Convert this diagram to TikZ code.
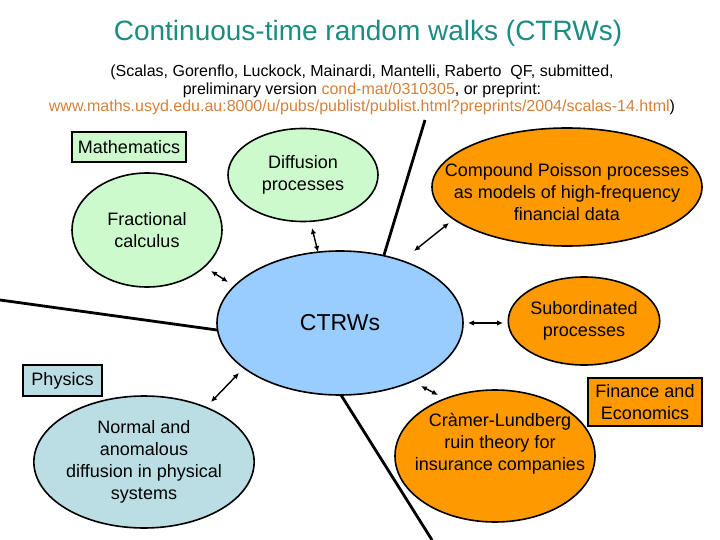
\documentclass[tikz,border=0pt]{standalone}
\usepackage{fontspec}
\setmainfont{Liberation Sans}
\usetikzlibrary{shapes.geometric,arrows.meta}
\definecolor{lgreen}{RGB}{204,250,204}
\definecolor{cblue}{RGB}{153,204,255}
\definecolor{corange}{RGB}{255,153,0}
\definecolor{pblue}{RGB}{186,222,228}
\definecolor{titlecol}{RGB}{26,140,128}
\definecolor{linkcol}{RGB}{214,128,56}
\begin{document}
\begin{tikzpicture}[x=1pt,y=-1pt,
  ell/.style={ellipse,draw=black,line width=1.6pt,inner sep=0pt,align=center,font=\fontsize{18}{22}\selectfont},
  lbl/.style={draw=black,line width=1.6pt,inner sep=0pt,align=center,font=\fontsize{18}{22}\selectfont},
  txt/.style={align=center,font=\fontsize{18}{22}\selectfont},
  biarrow/.style={{Latex[length=6pt,width=5.5pt]}-{Latex[length=6pt,width=5.5pt]},line width=1.4pt},
  sepline/.style={line width=2.8pt}]
\useasboundingbox (0,0) rectangle (720,540);

% title and reference
\node[text=titlecol,font=\fontsize{28}{32}\selectfont] (title) at (368,33) {Continuous-time random walks (CTRWs)};
\node[align=center,font=\fontsize{16}{17.5}\selectfont] (ref) at (362,90)
 {(Scalas, Gorenflo, Luckock, Mainardi, Mantelli, Raberto\ \ QF, submitted,\\
  preliminary version \textcolor{linkcol}{cond-mat/0310305}, or preprint:\\
  \textcolor{linkcol}{www.maths.usyd.edu.au:8000/u/pubs/publist/publist.html?preprints/2004/scalas-14.html})};

% separator lines
\coordinate (s1a) at (0,300);   \coordinate (s1b) at (217,330);
\coordinate (s2a) at (425,120); \coordinate (s2b) at (384,255);
\coordinate (s3a) at (341,395); \coordinate (s3b) at (432,540);
\draw[sepline] (s1a) -- (s1b);
\draw[sepline] (s2a) -- (s2b);
\draw[sepline] (s3a) -- (s3b);

% area labels
\node[lbl,fill=lgreen,minimum width=114pt,minimum height=30pt] (math) at (129,147) {Mathematics};
\node[lbl,fill=pblue,minimum width=79pt,minimum height=31pt] (phys) at (62.5,380.5) {Physics};
\node[lbl,fill=corange,minimum width=114pt,minimum height=48pt] (fin) at (645,402) {Finance and\\Economics};

% ellipses
\node[ell,fill=lgreen,minimum width=150pt,minimum height=114pt] (frac) at (147,230) {Fractional\\calculus};
\node[ell,fill=lgreen,minimum width=150pt,minimum height=93pt] (diff) at (303,175) {Diffusion\\processes};
\node[ell,fill=corange,minimum width=270pt,minimum height=118pt] (comp) at (567,187) {};
\node[txt] (comptxt) at (567,192) {Compound Poisson processes\\as models of high-frequency\\financial data};
\node[ell,fill=cblue,minimum width=246pt,minimum height=144pt,font=\fontsize{23}{26}\selectfont] (ctrw) at (340,323) {CTRWs};
\node[ell,fill=corange,minimum width=150pt,minimum height=88pt] (sub) at (584,321) {Subordinated\\processes};
\node[ell,fill=pblue,minimum width=192pt,minimum height=132pt] (norm) at (144,462) {Normal and\\anomalous\\diffusion in physical\\systems};
\node[ell,fill=corange,minimum width=200pt,minimum height=132pt] (cram) at (495,456) {};
\node[txt] (cramtxt) at (500,444) {Cràmer-Lundberg\\ruin theory for\\insurance companies};

% arrows
\coordinate (a1a) at (211,271); \coordinate (a1b) at (228,282);
\coordinate (a2a) at (312,228); \coordinate (a2b) at (318,252);
\coordinate (a3a) at (449,223); \coordinate (a3b) at (414,251);
\coordinate (a4a) at (468,323); \coordinate (a4b) at (503,323);
\coordinate (a5a) at (239,373); \coordinate (a5b) at (211,402);
\coordinate (a6a) at (421,386); \coordinate (a6b) at (438,395);
\draw[biarrow] (a1a) -- (a1b);
\draw[biarrow] (a2a) -- (a2b);
\draw[biarrow] (a3a) -- (a3b);
\draw[biarrow] (a4a) -- (a4b);
\draw[biarrow] (a5a) -- (a5b);
\draw[biarrow] (a6a) -- (a6b);
\end{tikzpicture}
\end{document}
